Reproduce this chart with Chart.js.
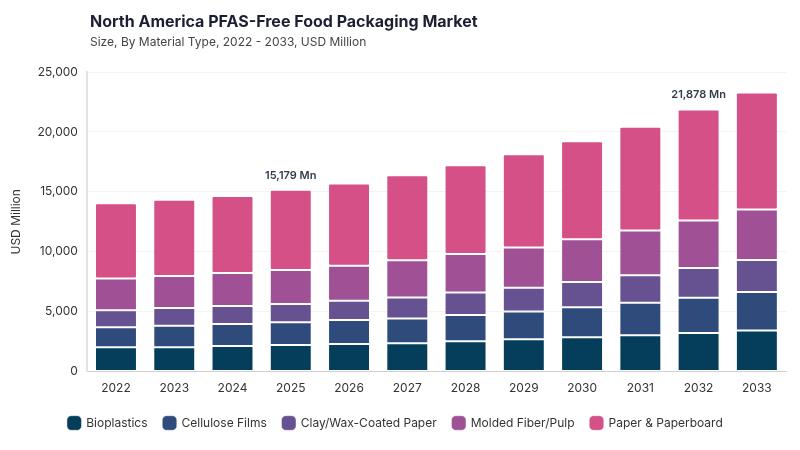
<!DOCTYPE html>
<html>
<head>
<meta charset="utf-8">
<script src="https://cdn.jsdelivr.net/npm/chart.js@4/dist/chart.umd.min.js"></script>
<style>
  body { margin: 0; background: #fff; font-family: Inter, "Noto Sans", sans-serif; }
  #wrap { position: relative; width: 800px; height: 450px; }
  #title { position: absolute; left: 90px; top: 11px; font-size: 16px; font-weight: 700; color: #1c1f33; }
  #sub { position: absolute; left: 90px; top: 34px; font-size: 12px; color: #444; }
  canvas { position: absolute; left: 0; top: 0; }
</style>
</head>
<body>
<div id="wrap">
  <canvas id="canvas" width="800" height="450"></canvas>
  <div id="title">North America PFAS-Free Food Packaging Market</div>
  <div id="sub">Size, By Material Type, 2022 - 2033, USD Million</div>
</div>
<script>
// Dữ liệu biểu đồ
const years = ['2022', '2023', '2024', '2025', '2026', '2027', '2028', '2029', '2030', '2031', '2032', '2033'];
const bioplastics = [2025, 2030, 2140, 2220, 2300, 2360, 2530, 2690, 2860, 3030, 3220, 3420];
const celluloseFilms = [1670, 1800, 1830, 1890, 2000, 2080, 2190, 2330, 2500, 2720, 2945, 3220];
const clayWaxPaper = [1415, 1470, 1500, 1530, 1610, 1750, 1890, 1970, 2110, 2300, 2470, 2670];
const moldedFiber = [2665, 2670, 2750, 2830, 2920, 3110, 3200, 3360, 3580, 3720, 3975, 4220];
const paperBoard = [6280, 6360, 6440, 6709, 6860, 7080, 7410, 7780, 8170, 8670, 9268, 9750];
const yTicks = [0, 5000, 10000, 15000, 20000, 25000];
// Nhãn tổng trên cột
const callouts = [{ idx: 3, text: '15,179 Mn' }, { idx: 10, text: '21,878 Mn' }];

const colors = ['#043e5a', '#2f4b7c', '#665191', '#a05195', '#d45087'];
const names = ['Bioplastics', 'Cellulose Films', 'Clay/Wax-Coated Paper', 'Molded Fiber/Pulp', 'Paper & Paperboard'];
const series = [bioplastics, celluloseFilms, clayWaxPaper, moldedFiber, paperBoard];

const FONT = 'Inter, "Noto Sans", sans-serif';

/**
 * Vẽ nhãn tổng phía trên các cột được chọn.
 */
const calloutPlugin = {
    id: 'callouts',
    afterDatasetsDraw(chart) {
        const ctx = chart.ctx;
        const x = chart.scales.x, y = chart.scales.y;
        ctx.save();
        ctx.font = '600 11px ' + FONT;
        ctx.fillStyle = '#333a4a';
        ctx.textAlign = 'center';
        ctx.textBaseline = 'bottom';
        callouts.forEach(c => {
            let total = 0;
            series.forEach(s => total += s[c.idx]);
            ctx.fillText(c.text, x.getPixelForValue(c.idx), y.getPixelForValue(total) - 9);
        });
        ctx.restore();
    }
};

const config = {
    type: 'bar',
    data: {
        labels: years,
        datasets: series.map((s, i) => ({
            label: names[i],
            data: s,
            backgroundColor: colors[i],
            borderColor: 'rgba(255,255,255,0.45)',
            borderWidth: 1,
            borderRadius: i === series.length - 1 ? 2 : 0,
            borderSkipped: false,
            barPercentage: 0.72,
            categoryPercentage: 1
        }))
    },
    options: {
        responsive: false,
        animation: false,
        layout: { padding: { top: 72, left: 5, right: 14, bottom: 11 } },
        plugins: {
            legend: {
                position: 'bottom',
                // tiêu đề rỗng chỉ để tạo khoảng cách
                title: { display: true, text: '', font: { size: 3, lineHeight: 1 }, padding: 0 },
                labels: {
                    usePointStyle: true,
                    pointStyle: 'rectRounded',
                    boxWidth: 13,
                    boxHeight: 13,
                    padding: 16,
                    color: '#333',
                    font: { family: FONT, size: 12 }
                }
            },
            tooltip: { enabled: false }
        },
        scales: {
            x: {
                stacked: true,
                grid: { display: false },
                border: { color: '#cfcfcf' },
                ticks: { color: '#333', font: { family: FONT, size: 12 }, padding: 2 }
            },
            y: {
                stacked: true,
                min: 0,
                max: 25000,
                afterBuildTicks: axis => { axis.ticks = yTicks.map(v => ({ value: v })); },
                grid: { color: '#f3f3f3', drawTicks: false },
                border: { color: '#e2e2e2', width: 2 },
                ticks: {
                    color: '#333',
                    font: { family: FONT, size: 12 },
                    padding: 9,
                    callback: v => v.toLocaleString('en-US')
                },
                title: {
                    display: true,
                    text: 'USD Million',
                    color: '#333',
                    font: { family: FONT, size: 12 },
                    padding: { bottom: 5 }
                }
            }
        }
    },
    plugins: [calloutPlugin]
};

let myChart;

/**
 * Khởi tạo.
 */
function init() {
    myChart = new Chart('canvas', config);
}

init();
</script>
</body>
</html>
